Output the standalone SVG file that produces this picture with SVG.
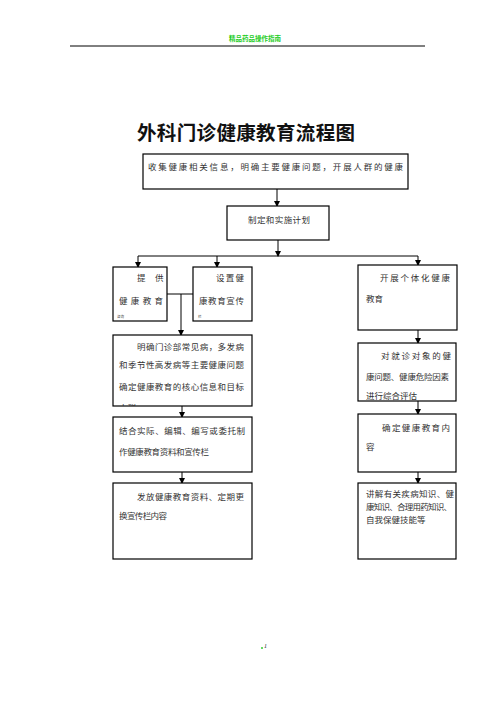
<svg xmlns="http://www.w3.org/2000/svg" width="496" height="702" viewBox="0 0 496 702">
<style>
.box{fill:#fff;stroke:#000;stroke-width:1.2}
.t{font-family:"Noto Sans CJK SC","Liberation Serif",serif;font-size:8.5px;fill:#333}
.tiny{font-family:"Noto Sans CJK SC",sans-serif;font-size:3.5px;fill:#444}
.ln{stroke:#000;stroke-width:1;fill:none}
</style>
<defs>
<marker id="ah" markerWidth="6" markerHeight="6" refX="5" refY="3" orient="auto" markerUnits="userSpaceOnUse">
<path d="M0,0 L6,3 L0,6 Z" fill="#000"/>
</marker>
<clipPath id="clipC"><rect x="113" y="335" width="139" height="71"/></clipPath>
</defs>
<rect width="496" height="702" fill="#fff"/>
<g id="header">
<text x="255" y="41" text-anchor="middle" font-family="Noto Sans CJK SC,sans-serif" font-size="6.5" font-weight="bold" fill="#22cc22">精品药品操作指南</text>
<line x1="70" y1="46" x2="425" y2="46" stroke="#000" stroke-width="1"/>
</g>
<text id="title" x="246" y="140" text-anchor="middle" font-family="Noto Sans CJK SC,sans-serif" font-size="19.5" font-weight="bold" fill="#111" textLength="218" lengthAdjust="spacing">外科门诊健康教育流程图</text>
<g id="connectors">
<line class="ln" x1="277" y1="189" x2="277" y2="206" marker-end="url(#ah)"/>
<line class="ln" x1="278" y1="240" x2="278" y2="256" marker-end="url(#ah)"/>
<line class="ln" x1="138" y1="256" x2="418" y2="256"/>
<line class="ln" x1="138" y1="256" x2="138" y2="267" marker-end="url(#ah)"/>
<line class="ln" x1="217" y1="256" x2="217" y2="267" marker-end="url(#ah)"/>
<line class="ln" x1="418" y1="256" x2="418" y2="265" marker-end="url(#ah)"/>
<line class="ln" x1="167" y1="294" x2="193" y2="294"/>
<line class="ln" x1="181" y1="294" x2="181" y2="335" marker-end="url(#ah)"/>
<line class="ln" x1="182" y1="406" x2="182" y2="417" marker-end="url(#ah)"/>
<line class="ln" x1="182" y1="472" x2="182" y2="483" marker-end="url(#ah)"/>
<line class="ln" x1="418" y1="330" x2="418" y2="343" marker-end="url(#ah)"/>
<line class="ln" x1="418" y1="401" x2="418" y2="414" marker-end="url(#ah)"/>
<line class="ln" x1="418" y1="472" x2="418" y2="483" marker-end="url(#ah)"/>
</g>
<g id="n1">
<rect class="box" x="143" y="154" width="265" height="35"/>
<text class="t" x="148" y="170" font-size="9.5" textLength="255" lengthAdjust="spacing">收集健康相关信息，明确主要健康问题，开展人群的健康</text>
</g>
<g id="n2">
<rect class="box" x="227" y="206" width="102" height="34"/>
<text class="t" x="248" y="223" textLength="62" lengthAdjust="spacing">制定和实施计划</text>
</g>
<g id="nA">
<rect class="box" x="113" y="267" width="54" height="54"/>
<text class="t" x="137" y="281">提</text>
<text class="t" x="155" y="281">供</text>
<text class="t" x="119" y="304" textLength="44" lengthAdjust="spacing">健康教育</text>
<text class="tiny" x="117" y="318">咨询</text>
</g>
<g id="nB">
<rect class="box" x="193" y="267" width="59" height="54"/>
<text class="t" x="216" y="281" textLength="28" lengthAdjust="spacing">设置健</text>
<text class="t" x="199" y="304" textLength="45" lengthAdjust="spacing">康教育宣传</text>
<text class="tiny" x="198" y="318">栏</text>
</g>
<g id="nC">
<rect class="box" x="113" y="335" width="139" height="71"/>
<text class="t" x="137" y="350" textLength="107" lengthAdjust="spacing">明确门诊部常见病，多发病</text>
<text class="t" x="119" y="368" textLength="125" lengthAdjust="spacing">和季节性高发病等主要健康问题</text>
<text class="t" x="119" y="390" textLength="125" lengthAdjust="spacing">确定健康教育的核心信息和目标</text>
<text class="t" x="119" y="411" clip-path="url(#clipC)">人群</text>
</g>
<g id="nD">
<rect class="box" x="113" y="417" width="139" height="55"/>
<text class="t" x="119" y="434" textLength="126" lengthAdjust="spacing">结合实际、编辑、编写或委托制</text>
<text class="t" x="119" y="455" textLength="90" lengthAdjust="spacing">作健康教育资料和宣传栏</text>
</g>
<g id="nE">
<rect class="box" x="113" y="483" width="139" height="76"/>
<text class="t" x="137" y="500" textLength="107" lengthAdjust="spacing">发放健康教育资料、定期更</text>
<text class="t" x="119" y="519" textLength="48" lengthAdjust="spacing">换宣传栏内容</text>
</g>
<g id="nR1">
<rect class="box" x="358" y="265" width="99" height="65"/>
<text class="t" x="380" y="281" textLength="70" lengthAdjust="spacing">开展个体化健康</text>
<text class="t" x="366" y="302">教育</text>
</g>
<g id="nR2">
<rect class="box" x="358" y="343" width="98" height="58"/>
<text class="t" x="381" y="359" textLength="70" lengthAdjust="spacing">对就诊对象的健</text>
<text class="t" x="366" y="380" textLength="83" lengthAdjust="spacing">康问题、健康危险因素</text>
<text class="t" x="366" y="399">进行综合评估</text>
</g>
<g id="nR3">
<rect class="box" x="358" y="414" width="98" height="58"/>
<text class="t" x="382" y="431" textLength="68" lengthAdjust="spacing">确定健康教育内</text>
<text class="t" x="366" y="450">容</text>
</g>
<g id="nR4">
<rect class="box" x="358" y="483" width="98" height="76"/>
<text class="t" x="366" y="497" textLength="88" lengthAdjust="spacing">讲解有关疾病知识、健</text>
<text class="t" x="366" y="510" textLength="86" lengthAdjust="spacing">康知识、合理用药知识、</text>
<text class="t" x="366" y="523">自我保健技能等</text>
</g>
<g id="footer">
<circle cx="262" cy="648" r="1" fill="#3c3"/>
<text x="264" y="648" font-family="Liberation Serif,serif" font-size="6" font-style="italic" fill="#222">1</text>
</g>
</svg>
